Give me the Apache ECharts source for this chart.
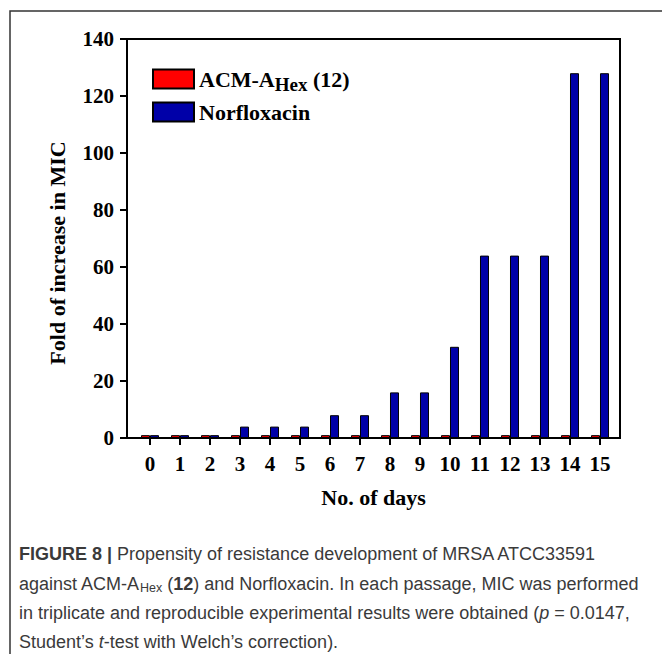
<!DOCTYPE html>
<html>
<head>
<meta charset="utf-8">
<script src="https://cdn.jsdelivr.net/npm/echarts@6/dist/echarts.min.js"></script>
<style>
html,body{margin:0;padding:0;background:#fff;}
#chart{width:662px;height:654px;}
</style>
</head>
<body>
<div id="chart"></div>
<script>
// ---- data ----
const days = [0,1,2,3,4,5,6,7,8,9,10,11,12,13,14,15];
const acmValues = [1,1,1,1,1,1,1,1,1,1,1,1,1,1,1,1];
const norfloxacinValues = [1,1,1,4,4,4,8,8,16,16,32,64,64,64,128,128];
const yMin = 0, yMax = 140, yStep = 20;
const seriesNames = ['ACM-A_Hex (12)', 'Norfloxacin'];
const xTitle = 'No. of days';
const yTitle = 'Fold of increase in MIC';
const captionLines = [
  '{b|FIGURE 8 |} Propensity of resistance development of MRSA ATCC33591',
  'against ACM-A{s|Hex} ({b|12}) and Norfloxacin. In each passage, MIC was performed',
  'in triplicate and reproducible experimental results were obtained ({i|p} = 0.0147,',
  'Student\u2019s {i|t}-test with Welch\u2019s correction).'
];

const serif = '"Liberation Serif","Times New Roman",serif';
const sans = '"Liberation Sans",Arial,sans-serif';
const capColor = '#3a3a3a';
const capSize = 18;

const chart = echarts.init(document.getElementById('chart'), null, {renderer: 'svg'});

const capRich = {
  b: {fontFamily: sans, fontSize: capSize, fontWeight: 'bold', fill: capColor},
  i: {fontFamily: sans, fontSize: capSize, fontStyle: 'italic', fill: capColor},
  s: {fontFamily: sans, fontSize: 12.5, fill: capColor, padding: [8, 0, 0, 0], verticalAlign: 'bottom'}
};
const capY = [554, 584, 613, 642];
const captionGraphics = captionLines.map((t, k) => ({
  type: 'text',
  x: 19,
  y: capY[k],
  style: {
    text: t,
    fontFamily: sans,
    fontSize: capSize,
    fill: capColor,
    verticalAlign: 'middle',
    rich: capRich
  }
}));

const option = {
  animation: false,
  backgroundColor: '#fff',
  grid: {
    left: 127, right: 42, top: 39, bottom: 216,
    show: true, borderColor: '#000', borderWidth: 2, backgroundColor: 'transparent'
  },
  legend: {
    orient: 'vertical',
    left: 152,
    top: 57,
    padding: 0,
    itemWidth: 41,
    itemHeight: 19,
    itemGap: 7,
    icon: 'rect',
    selectedMode: false,
    data: seriesNames,
    formatter: function (name) {
      if (name.indexOf('_') >= 0) {
        return '{m|ACM-A}{s|Hex}{m| (12)}';
      }
      return '{m|' + name + '}';
    },
    textStyle: {
      fontFamily: serif, fontWeight: 'bold', fontSize: 22, color: '#000',
      rich: {
        m: {fontFamily: serif, fontWeight: 'bold', fontSize: 22, color: '#000', lineHeight: 30, verticalAlign: 'middle'},
        s: {fontFamily: serif, fontWeight: 'bold', fontSize: 19, color: '#000', lineHeight: 12, padding: [18, 0, 0, 0], verticalAlign: 'bottom'}
      }
    }
  },
  xAxis: {
    type: 'value',
    min: -0.767,
    max: 15.667,
    name: xTitle,
    nameLocation: 'middle',
    nameGap: 48,
    nameTextStyle: {fontFamily: serif, fontWeight: 'bold', fontSize: 22, color: '#000'},
    splitLine: {show: false},
    axisLine: {show: true, onZero: false, lineStyle: {color: '#000', width: 2}},
    axisTick: {show: true, length: 7, lineStyle: {color: '#000', width: 2}, customValues: days},
    axisLabel: {
      fontFamily: serif, fontWeight: 'bold', fontSize: 21, color: '#000', margin: 15,
      customValues: days
    }
  },
  yAxis: {
    type: 'value',
    min: yMin, max: yMax, interval: yStep,
    splitLine: {show: false},
    axisLine: {show: true, onZero: false, lineStyle: {color: '#000', width: 2}},
    axisTick: {show: true, length: 7, lineStyle: {color: '#000', width: 2}},
    axisLabel: {fontFamily: serif, fontWeight: 'bold', fontSize: 21, color: '#000', margin: 13}
  },
  series: [
    {
      name: seriesNames[0],
      type: 'bar',
      barWidth: 9,
      barGap: '0%',
      itemStyle: {color: '#ff0000', borderColor: '#000', borderWidth: 1},
      data: days.map((d, k) => [d, acmValues[k]])
    },
    {
      name: seriesNames[1],
      type: 'bar',
      barWidth: 9,
      barGap: '0%',
      itemStyle: {color: '#0000a8', borderColor: '#000', borderWidth: 1},
      data: days.map((d, k) => [d, norfloxacinValues[k]])
    }
  ],
  graphic: [
    {
      type: 'polyline',
      shape: {points: [[10, 654], [10, 11], [662, 11]]},
      style: {stroke: '#333', lineWidth: 1.5, fill: null},
      silent: true
    },
    {
      type: 'text',
      x: 57, y: 253,
      rotation: Math.PI / 2,
      style: {
        text: yTitle,
        fontFamily: serif, fontWeight: 'bold', fontSize: 22, fill: '#000',
        align: 'center', verticalAlign: 'middle'
      }
    }
  ].concat(captionGraphics)
};
chart.setOption(option);
</script>
</body>
</html>
